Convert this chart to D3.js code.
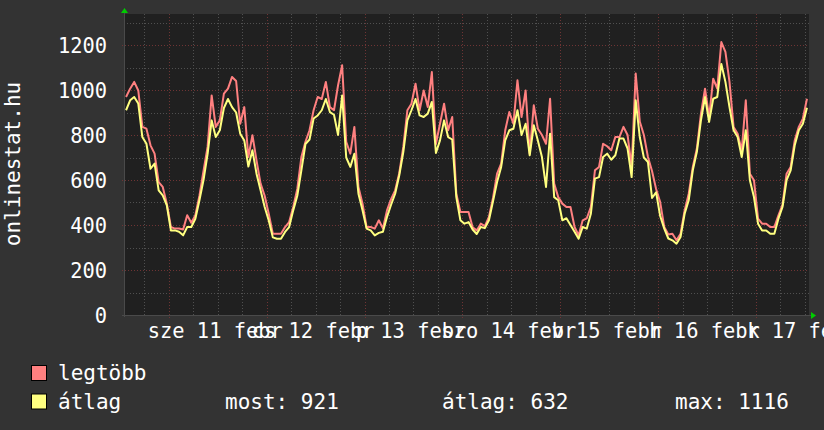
<!DOCTYPE html>
<html><head><meta charset="utf-8">
<script src="https://cdn.jsdelivr.net/npm/d3@7"></script>
<style>
html,body{margin:0;padding:0;background:#333333;}
svg{display:block;}
text{font-family:"DejaVu Sans Mono",monospace;fill:#ffffff;}
</style></head><body>
<svg id="c" width="824" height="430"></svg>
<script>
// ---- data (hourly, starting Feb 10 13:00) ----
const startTime = new Date(2015, 1, 10, 13, 0);
const endTime = new Date(2015, 1, 17, 13, 0);
const maxValues = [969,1006,1036,998,836,828,754,717,591,569,
495,391,384,384,380,443,410,443,530,640,
747,976,836,865,984,1006,1058,1040,850,924,
702,799,687,584,530,450,361,361,361,391,
413,480,560,702,770,821,910,969,960,1036,
924,910,1021,1110,770,717,836,569,495,391,
391,384,421,385,465,515,554,630,747,910,
939,1028,910,998,924,1080,760,850,939,821,
880,539,458,458,458,390,376,406,395,436,
520,628,673,821,902,850,1043,880,998,717,
932,828,800,761,961,584,524,495,480,480,
391,354,421,430,480,643,658,761,750,732,
791,791,836,800,658,1073,860,800,702,640,
560,502,391,358,361,332,361,465,539,658,
740,895,1006,880,1050,1006,1213,1169,1036,836,
806,732,954,628,599,428,406,406,391,391,
443,490,628,658,776,836,873,961];
const avgValues = [910,954,969,940,791,761,650,673,554,532,
487,376,376,370,354,391,391,428,510,600,
715,865,791,821,920,960,924,900,806,776,
660,732,628,554,480,420,345,339,339,369,
391,465,530,643,760,780,873,887,910,960,
902,890,800,976,700,658,717,539,465,384,
376,354,365,370,436,490,539,620,724,865,
910,960,887,880,895,947,720,776,865,791,
780,524,421,406,413,380,360,391,386,421,
505,591,658,776,821,828,910,800,850,710,
843,776,702,569,806,524,510,421,430,400,
370,339,391,384,450,606,613,702,717,690,
710,784,784,740,613,954,790,700,680,520,
545,440,384,340,332,317,347,450,510,643,
725,865,969,858,961,969,1116,1036,924,821,
791,702,821,599,524,406,376,376,361,361,
428,480,599,643,754,821,850,921];
const yTicks = [0,200,400,600,800,1000,1200];
const dayLabels = ["sze 11 febr","cs 12 febr","p 13 febr","szo 14 febr","v 15 febr","h 16 febr","k 17 febr"];
const seriesNames = ["legtöbb","átlag"];
const seriesColors = ["#ff8080","#ffff80"];
const statLabels = ["most: 921","átlag: 632","max: 1116"];
const yTitle = "onlinestat.hu";

// ---- layout ----
const svg = d3.select("#c");
const L = 124, R = 809, T = 14, B = 315;
const hourMs = 3600e3;
const x = d3.scaleTime().domain([startTime, endTime]).range([L, R]);
const y = d3.scaleLinear().domain([0, 1200]).range([B, 45]);

svg.append("rect").attr("width",824).attr("height",430).attr("fill","#333333");
svg.append("rect").attr("x",L).attr("y",T).attr("width",R-L).attr("height",B-T).attr("fill","#202020");

// grid
const g = svg.append("g");
const minorY = d3.range(100, 1400, 100).filter(v => v % 200 !== 0 && y(v) > T);
const majorY = yTicks.filter(v => v > 0);
const sixH = d3.timeHour.every(6).range(startTime, endTime).filter(d => d.getHours() !== 0);
const days = d3.timeDay.range(startTime, endTime);
g.selectAll(".mny").data(minorY).join("line")
  .attr("x1",L).attr("x2",R).attr("y1",d=>Math.round(y(d))+0.5).attr("y2",d=>Math.round(y(d))+0.5)
  .attr("stroke","#505050").attr("stroke-dasharray","1,2");
g.selectAll(".mnx").data(sixH).join("line")
  .attr("x1",d=>Math.round(x(d))+0.5).attr("x2",d=>Math.round(x(d))+0.5).attr("y1",T).attr("y2",B+2)
  .attr("stroke","#505050").attr("stroke-dasharray","1,2");
g.selectAll(".mjy").data(majorY).join("line")
  .attr("x1",L-2).attr("x2",R).attr("y1",d=>Math.round(y(d))+0.5).attr("y2",d=>Math.round(y(d))+0.5)
  .attr("stroke","#6e3434").attr("stroke-dasharray","1,2");
g.selectAll(".mjx").data(days).join("line")
  .attr("x1",d=>Math.round(x(d))+0.5).attr("x2",d=>Math.round(x(d))+0.5).attr("y1",T).attr("y2",B+3)
  .attr("stroke","#6e3434").attr("stroke-dasharray","1,2");

// axes lines
svg.append("line").attr("x1",L+0.5).attr("x2",L+0.5).attr("y1",B+2).attr("y2",11).attr("stroke","#4a4a4a");
svg.append("line").attr("x1",L-2).attr("x2",R+2).attr("y1",B+0.5).attr("y2",B+0.5).attr("stroke","#4a4a4a");
svg.append("path").attr("d",`M${L-3},${13}L${L+4},${13}L${L+0.5},${8}Z`).attr("fill","#00cc00");
svg.append("path").attr("d",`M${R+2},${B-3}L${R+2},${B+4}L${R+7},${B+0.5}Z`).attr("fill","#00cc00");

// lines
const pts = vals => vals.map((v,i)=>[new Date(startTime.getTime()+(i+0.5)*hourMs), v]);
const line = d3.line().x(d=>x(d[0])).y(d=>y(d[1])).curve(d3.curveLinear);
[maxValues, avgValues].forEach((vals,i)=>{
  svg.append("path").datum(pts(vals)).attr("d",line)
    .attr("fill","none").attr("stroke",seriesColors[i]).attr("stroke-width",2)
    .attr("stroke-linejoin","round");
});

// y axis labels
const ya = d3.axisLeft(y).tickValues(yTicks).tickSize(0).tickPadding(0).tickFormat(d3.format("d"));
const yg = svg.append("g").attr("transform",`translate(107,0)`).call(ya);
yg.select(".domain").remove();
yg.selectAll("text").attr("font-family","DejaVu Sans Mono").attr("font-size",20.4).attr("fill","#ffffff").attr("dy","0.36em").attr("x",0);

// x axis labels
const noons = days.map(d=>new Date(d.getTime()+12*hourMs)).concat([new Date(2015,1,17,12)]);
const xa = d3.axisBottom(x).tickValues(noons).tickSize(0).tickPadding(0).tickFormat((d,i)=>dayLabels[i]);
const xg = svg.append("g").attr("transform",`translate(-3,${B})`).call(xa);
xg.select(".domain").remove();
xg.selectAll("text").attr("font-family","DejaVu Sans Mono").attr("font-size",20.4).attr("fill","#ffffff").attr("dy",null).attr("y",23);

// y title
svg.append("text").attr("transform","translate(20,164) rotate(-90)").attr("text-anchor","middle")
  .attr("font-size",21).text(yTitle);

// legend
seriesNames.forEach((n,i)=>{
  const yy = 366 + i*28.5;
  svg.append("rect").attr("x",31.5).attr("y",yy-0.5).attr("width",15).attr("height",15)
    .attr("fill",seriesColors[i]).attr("stroke","#000").attr("stroke-width",1);
  svg.append("text").attr("x",58).attr("y",yy+14).attr("font-size",21).text(n);
});
const statX = [225, 442, 675];
statLabels.forEach((s,i)=>{
  svg.append("text").attr("x",statX[i]).attr("y",366+28.5+14).attr("font-size",21).text(s);
});
</script>
</body></html>
